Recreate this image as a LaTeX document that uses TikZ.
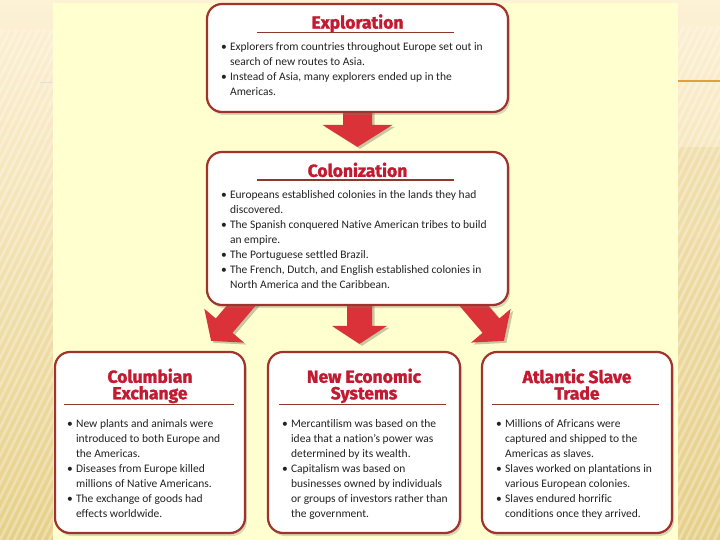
\documentclass[tikz,border=0pt]{standalone}
\usepackage{fontspec}
\setmainfont{Carlito}[Ligatures=NoCommon]
\newfontfamily\titlefont{Fira Sans}[BoldFeatures={FakeBold=1.6}]
\usetikzlibrary{calc,shadows}
\pgfdeclarelayer{back}
\pgfdeclarelayer{mid}
\pgfsetlayers{back,mid,main}
\definecolor{boxred}{RGB}{160,52,44}
\definecolor{titlered}{RGB}{194,26,48}
\definecolor{linered}{RGB}{140,56,44}
\definecolor{arrred}{RGB}{218,50,56}
\definecolor{txt}{RGB}{35,35,35}
\definecolor{panel}{RGB}{255,255,208}
\definecolor{slidetop}{RGB}{253,241,214}
\definecolor{slidebot}{RGB}{230,208,136}
\definecolor{slidedark}{RGB}{232,208,140}
\definecolor{orangeline}{RGB}{226,160,58}
\tikzset{
  infobox/.style={draw=boxred, line width=2.2pt, rounded corners=15pt, fill=white, inner sep=0pt,
    drop shadow={shadow xshift=2pt, shadow yshift=-3pt, opacity=0.3}},
  boxtitle/.style={font={\titlefont\bfseries\fontsize{17.5}{16.5}\selectfont}, text=titlered, align=center, inner sep=0pt},
  bodytext/.style={font={\fontsize{11.5}{15}\selectfont}, text=txt, align=left, inner sep=0pt, anchor=north west},
  titlerule/.style={draw=linered, line width=1.4pt},
  arrowfill/.style={fill=arrred},
  arrowshadow/.style={fill=black, opacity=0.22, transform canvas={xshift=2.5pt, yshift=-2pt}},
}
\newcommand\bul{\makebox[9pt][l]{\textbullet}}
\newcommand\cont{\hspace*{9pt}}
% #1 style, #2 start name, #3 tip name, #4 shaft half width, #5 head half width, #6 head length
\newcommand\fatarrow[6]{%
  \coordinate (fa-h) at ($(#3)!#6!(#2)$);
  \path[#1] ($(#2)!#4!90:(#3)$) -- ($(fa-h)!#4!-90:(#2)$) -- ($(fa-h)!#5!-90:(#2)$) -- (#3)
    -- ($(fa-h)!#5!90:(#2)$) -- ($(fa-h)!#4!90:(#2)$) -- ($(#2)!#4!-90:(#3)$) -- cycle;
}
\begin{document}
\begin{tikzpicture}[x=1pt,y=-1pt]
\useasboundingbox (0,0) rectangle (720,540);
% ---------- boxes
\node[infobox, minimum width=301pt, minimum height=108pt] (explo) at (357.5,58) {};
\node[infobox, minimum width=301pt, minimum height=153pt] (colon) at (357.5,228.5) {};
\node[infobox, minimum width=190pt, minimum height=181pt] (colum) at (150,442.5) {};
\node[infobox, minimum width=192pt, minimum height=181pt] (econ) at (364,442.5) {};
\node[infobox, minimum width=190pt, minimum height=181pt] (atl) at (577,442.5) {};
% ---------- titles and rules
\node[boxtitle] (explot) at ($(explo.north)+(0,20.5)$) {Exploration};
\draw[titlerule] ($(explo.north west)+(51,29.5)$) coordinate (er1) -- ($(explo.north east)+(-55,29.5)$) coordinate (er2);
\node[boxtitle] (colont) at ($(colon.north)+(0,19)$) {Colonization};
\draw[titlerule] ($(colon.north west)+(51,29)$) coordinate (cr1) -- ($(colon.north east)+(-55,29)$) coordinate (cr2);
\node[boxtitle] (columt) at ($(colum.north)+(0,35)$) {Columbian\\Exchange};
\draw[titlerule] ($(colum.north west)+(10,53.5)$) coordinate (ur1) -- ($(colum.north east)+(-12,53.5)$) coordinate (ur2);
\node[boxtitle] (econt) at ($(econ.north)+(0,35)$) {New Economic\\Systems};
\draw[titlerule] ($(econ.north west)+(12,53.5)$) coordinate (nr1) -- ($(econ.north east)+(-15,53.5)$) coordinate (nr2);
\node[boxtitle] (atlt) at ($(atl.north)+(0,33.5)$) {Atlantic Slave\\Trade};
\draw[titlerule] ($(atl.north west)+(11,53.5)$) coordinate (ar1) -- ($(atl.north east)+(-14,53.5)$) coordinate (ar2);
% ---------- body texts
\node[bodytext] (explob) at ($(explo.north west)+(15,39)$) {%
\bul Explorers from countries throughout Europe set out in\\
\cont search of new routes to Asia.\\
\bul Instead of Asia, many explorers ended up in the\\
\cont Americas.};
\node[bodytext] (colonb) at ($(colon.north west)+(15,39)$) {%
\bul Europeans established colonies in the lands they had\\
\cont discovered.\\
\bul The Spanish conquered Native American tribes to build\\
\cont an empire.\\
\bul The Portuguese settled Brazil.\\
\bul The French, Dutch, and English established colonies in\\
\cont North America and the Caribbean.};
\node[bodytext] (columb) at ($(colum.north west)+(13,68)$) {%
\bul New plants and animals were\\
\cont introduced to both Europe and\\
\cont the Americas.\\
\bul Diseases from Europe killed\\
\cont millions of Native Americans.\\
\bul The exchange of goods had\\
\cont effects worldwide.};
\node[bodytext] (econb) at ($(econ.north west)+(15,68)$) {%
\bul Mercantilism was based on the\\
\cont idea that a nation’s power was\\
\cont determined by its wealth.\\
\bul Capitalism was based on\\
\cont businesses owned by individuals\\
\cont or groups of investors rather than\\
\cont the government.};
\node[bodytext] (atlb) at ($(atl.north west)+(15,68)$) {%
\bul Millions of Africans were\\
\cont captured and shipped to the\\
\cont Americas as slaves.\\
\bul Slaves worked on plantations in\\
\cont various European colonies.\\
\bul Slaves endured horrific\\
\cont conditions once they arrived.};
% ---------- arrows (behind boxes)
\begin{pgfonlayer}{mid}
\coordinate (s1) at ($(explo.south)+(0,-6)$);
\coordinate (t1) at ($(colon.north)+(0,-4)$);
\coordinate (s2) at ($(colon.south)+(2,-6)$);
\coordinate (t2) at ($(econ.north)+(-4.5,-7)$);
\coordinate (s3) at ($(colon.south)+(-109,-9)$);
\coordinate (t3) at ($(colum.north east)+(-35,-10)$);
\coordinate (s4) at ($(colon.south)+(109,-9)$);
\coordinate (t4) at ($(atl.north west)+(23,-10)$);
\fatarrow{arrowshadow}{s1}{t1}{14.5pt}{35pt}{22pt}
\fatarrow{arrowfill}{s1}{t1}{14.5pt}{35pt}{22pt}
\fatarrow{arrowshadow}{s2}{t2}{12.5pt}{27.5pt}{18pt}
\fatarrow{arrowfill}{s2}{t2}{12.5pt}{27.5pt}{18pt}
\fatarrow{arrowshadow}{s3}{t3}{11pt}{26pt}{20pt}
\fatarrow{arrowfill}{s3}{t3}{11pt}{26pt}{20pt}
\fatarrow{arrowshadow}{s4}{t4}{11pt}{26pt}{20pt}
\fatarrow{arrowfill}{s4}{t4}{11pt}{26pt}{20pt}
\end{pgfonlayer}
% ---------- slide background
\begin{pgfonlayer}{back}
\shade[top color=slidetop, bottom color=slidebot] (0,0) rectangle (720,540);
\fill[slidedark, opacity=0.35] (678,147) rectangle (720,540);
\begin{scope}
\clip (0,30) rectangle (53,540) (678,27) rectangle (720,540);
\foreach \i in {-40,...,105} \draw[white, opacity=0.3, line width=2.5pt] (\i*7,540) -- ++(300,-600);
\end{scope}
\draw[orangeline, line width=2pt] (678,81) -- (720,81);
\draw[black!12, line width=0.6pt] (40,82) -- (53,82);
\fill[panel] (53,3) rectangle (678,540);
\end{pgfonlayer}
\end{tikzpicture}
\end{document}
